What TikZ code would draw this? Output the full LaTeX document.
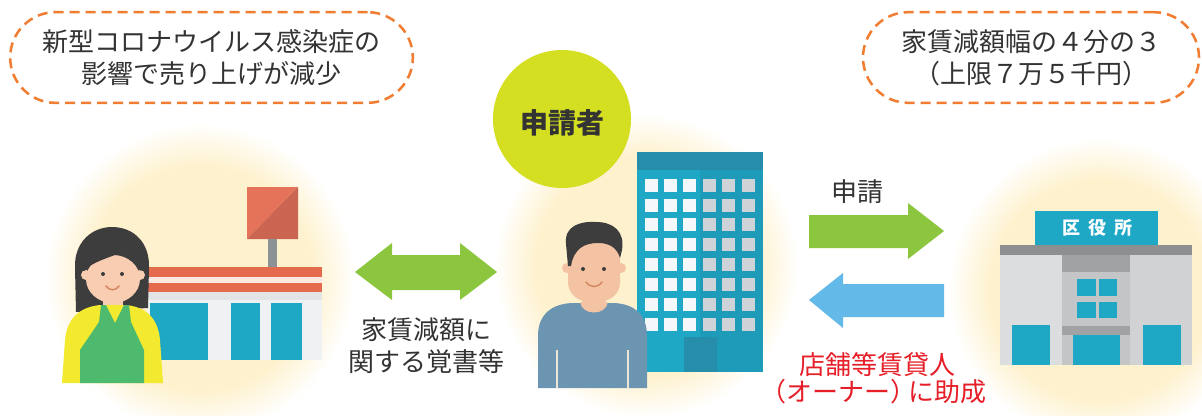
\documentclass[tikz,border=0pt]{standalone}
\usepackage{fontspec}
\newfontfamily\jp{Noto Sans CJK JP}

\definecolor{glowc}{RGB}{254,241,205}
\definecolor{dashor}{RGB}{240,125,50}
\definecolor{ink}{RGB}{51,51,51}
\definecolor{leafgreen}{RGB}{140,198,63}
\definecolor{skyblue}{RGB}{99,185,231}
\definecolor{alertred}{RGB}{230,30,40}
\definecolor{limecirc}{RGB}{213,223,34}
\definecolor{teal}{RGB}{31,167,198}
\definecolor{tealdark}{RGB}{38,141,170}
\definecolor{tealshade}{RGB}{30,155,185}
\definecolor{skinw}{RGB}{249,205,178}
\definecolor{skinm}{RGB}{244,195,163}
\definecolor{hairc}{RGB}{61,61,61}
\definecolor{shirty}{RGB}{243,233,47}
\definecolor{apronc}{RGB}{77,186,110}
\definecolor{shirtb}{RGB}{107,149,177}
\definecolor{seam}{RGB}{237,230,213}
\definecolor{signlt}{RGB}{229,115,90}
\definecolor{signdk}{RGB}{201,101,80}
\definecolor{roofred}{RGB}{229,107,78}
\definecolor{roofpale}{RGB}{251,233,226}
\definecolor{polegray}{RGB}{140,146,150}
\definecolor{facade}{RGB}{240,241,242}
\definecolor{facadeband}{RGB}{226,228,230}
\definecolor{winwhite}{RGB}{244,248,250}
\definecolor{wingray}{RGB}{205,211,214}
\definecolor{smilec}{RGB}{214,135,98}
\definecolor{hallbody}{RGB}{220,221,223}
\definecolor{hallshade}{RGB}{209,210,212}
\definecolor{hallmid}{RGB}{195,197,199}
\definecolor{hallband}{RGB}{160,162,164}
\definecolor{hallroof}{RGB}{141,143,145}

\pgfdeclareradialshading{glowshade}{\pgfpoint{0bp}{0bp}}{color(0bp)=(glowc); color(18bp)=(glowc); color(25bp)=(white); color(50bp)=(white)}

\tikzset{
  dashbox/.style={draw=dashor, line width=1.9pt, dash pattern=on 7.5pt off 4.5pt,
    rounded corners=34pt, align=center, text=ink,
    font=\jp\fontsize{19.5}{24}\selectfont},
  bodytext/.style={align=center, text=ink, font=\jp\fontsize{19.5}{24}\selectfont},
  redtext/.style={align=center, text=alertred, font=\jp\fontsize{19.5}{20.5}\selectfont},
  halo/.style={shading=glowshade},
  eye/.style={fill=hairc},
  smile/.style={draw=smilec, line width=1.1pt, line cap=round},
}

\begin{document}
\begin{tikzpicture}[x=0.75pt,y=-0.75pt]
\useasboundingbox (0,0) rectangle (1202,415);
\fill[white] (0,0) rectangle (1202,415);
\begin{scope}
\clip (0,0) rectangle (1202,415);

% soft halos behind the three figures
\shade[halo] (200,278) circle (155);
\shade[halo] (646,266) circle (152);
\shade[halo] (1100,290) circle (152);

% ---------- shop ----------
\fill[signlt] (247,187) -- (298,187) -- (247,239) -- cycle;
\fill[signdk] (298,187) -- (298,239) -- (247,239) -- cycle;
\fill[polegray] (268,239) rectangle (277,268);
\fill[roofred] (147,267) rectangle (322,277);
\fill[roofpale] (147,277) rectangle (322,283);
\fill[roofred] (147,283) rectangle (322,292);
\fill[facade] (147,292) rectangle (322,360);
\fill[facadeband] (147,292) rectangle (322,300);
\fill[teal] (150,303) rectangle (208,360);
\fill[teal] (231,303) rectangle (260,360);
\fill[teal] (271,303) rectangle (302,360);

% ---------- shopkeeper ----------
\fill[hairc] (76,312) -- (75,268) .. controls (74,242) and (92,227) .. (112,227)
  .. controls (134,227) and (150,243) .. (149,268) -- (148,308) -- cycle;
\fill[skinw] (103,294) rectangle (123,310);
\fill[skinw] (86,275) circle (5);
\fill[skinw] (140,275) circle (5);
\fill[skinw] (113,279) ellipse [x radius=27, y radius=24];
\fill[hairc] (84,271) .. controls (92,262) and (108,258) .. (120,253)
  .. controls (128,258) and (136,263) .. (141,271)
  -- (143,250) .. controls (135,232) and (92,232) .. (83,250) -- cycle;
\fill[eye] (103,274) circle (2);
\fill[eye] (122,274) circle (2);
\draw[smile] (106,286) .. controls (109,291) and (116,291) .. (119,286);
\fill[shirty] (62,383) -- (65,340) .. controls (67,318) and (80,307) .. (100,305)
  -- (126,305) .. controls (146,307) and (158,318) .. (160,340) -- (163,383) -- cycle;
\fill[apronc] (101,305) -- (106,305) -- (115,323) -- (124,305) -- (129,305)
  -- (131,322) -- (144,350) -- (144,383) -- (80,383) -- (80,350) -- (99,322) -- cycle;

% ---------- office tower ----------
\fill[teal] (637,152) rectangle (763,372);
\fill[tealshade] (700,170) rectangle (763,372);
\fill[tealdark] (637,152) rectangle (763,170);
\foreach \cx in {651,670,689}
  \foreach \cy in {185,205,224,244,264,284,304,324}
    \fill[winwhite] (\cx-6.5,\cy-6.5) rectangle ++(13,13);
\foreach \cx in {709,728,748}
  \foreach \cy in {185,205,224,244,264,284,304,324}
    \fill[wingray] (\cx-6.5,\cy-6.5) rectangle ++(13,13);
\fill[tealdark] (684,337) rectangle (717,372);

% ---------- applicant ----------
\fill[skinm] (582,292) rectangle (606,312);
\fill[skinm] (567,268) circle (5);
\fill[skinm] (621,268) circle (5);
\fill[skinm, rounded corners=14pt] (568,236) rectangle (620,301);
\fill[hairc] (568,266) -- (566,244) .. controls (564,226) and (580,221) .. (596,222)
  .. controls (614,222) and (625,232) .. (622,250) -- (620,258)
  .. controls (617,248) and (610,243) .. (598,243)
  .. controls (585,243) and (574,248) .. (571,266) -- cycle;
\fill[eye] (583,269) circle (2);
\fill[eye] (604,269) circle (2);
\draw[smile] (586,282) .. controls (590,288) and (598,288) .. (602,282);
\fill[shirtb] (538,388) -- (538,336) .. controls (538,314) and (552,304) .. (572,303)
  -- (614,303) .. controls (634,304) and (647,314) .. (647,336) -- (647,388) -- cycle;
\fill[skinm] (580,302) .. controls (582,316) and (606,316) .. (608,302) -- cycle;
\draw[seam, line width=1.5pt] (557,350) -- (557,388);
\draw[seam, line width=1.5pt] (628,350) -- (628,388);

% ---------- ward office ----------
\fill[hallbody] (1000,255) rectangle (1192,365);
\fill[hallshade] (1096,255) rectangle (1192,365);
\fill[hallmid] (1062,255) rectangle (1130,365);
\fill[hallband] (1062,255) rectangle (1130,272);
\fill[hallband] (1062,326) rectangle (1130,335);
\fill[hallroof] (1000,245) rectangle (1192,255);
\fill[teal] (1035,211) rectangle (1158,245);
\fill[teal] (1077,279) rectangle (1096,296);
\fill[teal] (1099,279) rectangle (1117,296);
\fill[teal] (1077,302) rectangle (1096,318);
\fill[teal] (1099,302) rectangle (1117,318);
\fill[teal] (1073,335) rectangle (1120,365);
\fill[teal] (1012,325) rectangle (1050,365);
\fill[teal] (1143,325) rectangle (1181,365);
\node (office) at (1097,228) [text=white, font=\jp\bfseries\fontsize{13.5}{14}\selectfont]
  {区\hspace{6pt}役\hspace{6pt}所};

% ---------- badge ----------
\fill[limecirc] (562,119) circle (69);
\node (applicant) at (562,123) [text=ink, font=\jp\bfseries\fontsize{21}{24}\selectfont] {申請者};

% ---------- arrows ----------
\fill[leafgreen] (355,272) -- (392,243) -- (392,255) -- (460,255) -- (460,243)
  -- (497,272) -- (460,300) -- (460,290) -- (392,290) -- (392,300) -- cycle;
\fill[leafgreen] (809,215) -- (908,215) -- (908,203) -- (944,231) -- (908,259)
  -- (908,248) -- (809,248) -- cycle;
\fill[skyblue] (944,284) -- (843,284) -- (843,273) -- (809,300) -- (843,328)
  -- (843,317) -- (944,317) -- cycle;

% ---------- captions ----------
\node (cause) [dashbox, minimum width=302pt, minimum height=68pt] at (211.5,57.5)
  {新型コロナウイルス感染症の\\影響で売り上げが減少};
\node (subsidy) [dashbox, minimum width=252pt, minimum height=68pt] at (1031,57.5)
  {家賃減額幅の４分の３\\（上限７万５千円）};
\node (memo) [bodytext] at (426,346) {家賃減額に\\関する覚書等};
\node (apply) [bodytext] at (857,192) {申請};
\node (grant) [redtext] at (877,378)
  {店舗等賃貸人\\\kern-6pt（オーナー）\kern-6pt に助成};
\end{scope}
\end{tikzpicture}
\end{document}
